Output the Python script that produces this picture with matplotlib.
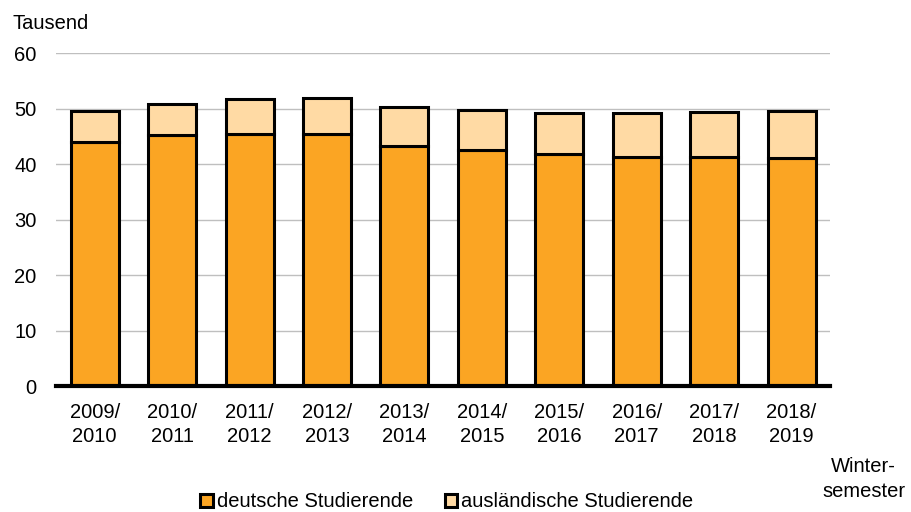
import matplotlib
matplotlib.use("Agg")
import matplotlib.pyplot as plt
import numpy as np

plt.rcParams['font.family'] = ['Liberation Sans', 'DejaVu Sans']

categories = ["2009/\n2010", "2010/\n2011", "2011/\n2012", "2012/\n2013", "2013/\n2014",
              "2014/\n2015", "2015/\n2016", "2016/\n2017", "2017/\n2018", "2018/\n2019"]
deutsche = [44.0, 45.2, 45.5, 45.4, 43.3, 42.5, 41.9, 41.3, 41.3, 41.1]
gesamt = [49.6, 50.9, 51.7, 52.0, 50.3, 49.7, 49.3, 49.2, 49.4, 49.5]
auslaendische = [round(g - d, 1) for g, d in zip(gesamt, deutsche)]
yticks = [0, 10, 20, 30, 40, 50, 60]

c_de = "#FBA523"
c_aus = "#FFDAA4"
fs = 14.5

fig = plt.figure(figsize=(9.12, 5.12), dpi=100)
ax = fig.add_axes([0.0614, 0.246, 0.849, 0.650])
x = np.arange(len(categories))
w = 0.62
b1 = ax.bar(x, deutsche, w, color=c_de, edgecolor="black", linewidth=2.2,
            label="deutsche Studierende", zorder=3)
b2 = ax.bar(x, auslaendische, w, bottom=deutsche, color=c_aus, edgecolor="black",
            linewidth=2.2, label="ausländische Studierende", zorder=3)

ax.set_xlim(-0.5, len(categories) - 0.5)
ax.set_ylim(0, 60)
ax.set_yticks(yticks)
ax.set_yticklabels([str(t) for t in yticks], fontsize=fs)
ax.set_xticks(x)
ax.set_xticklabels(categories, fontsize=fs, linespacing=1.38)
ax.tick_params(axis='x', length=0, pad=12)
ax.tick_params(axis='y', length=0, pad=14)
ax.yaxis.grid(True, color="#BFBFBF", linewidth=1.0, zorder=0)
for s in ["top", "right", "left"]:
    ax.spines[s].set_visible(False)
ax.spines["bottom"].set_linewidth(3)
ax.spines["bottom"].set_zorder(5)

fig.text(0.014, 0.955, "Tausend", fontsize=fs, ha="left", va="center")
fig.text(0.947, 0.022, "Winter-\nsemester", fontsize=fs, ha="center", va="bottom",
         multialignment="center", linespacing=1.35)

leg = fig.legend(handles=[b1, b2], loc="center", bbox_to_anchor=(0.49, 0.02),
                 ncol=2, frameon=False, fontsize=fs, handlelength=0.6,
                 handleheight=0.6, handletextpad=0.2, columnspacing=1.6,
                 borderpad=0.1)

fig.savefig("out.png", dpi=100)
